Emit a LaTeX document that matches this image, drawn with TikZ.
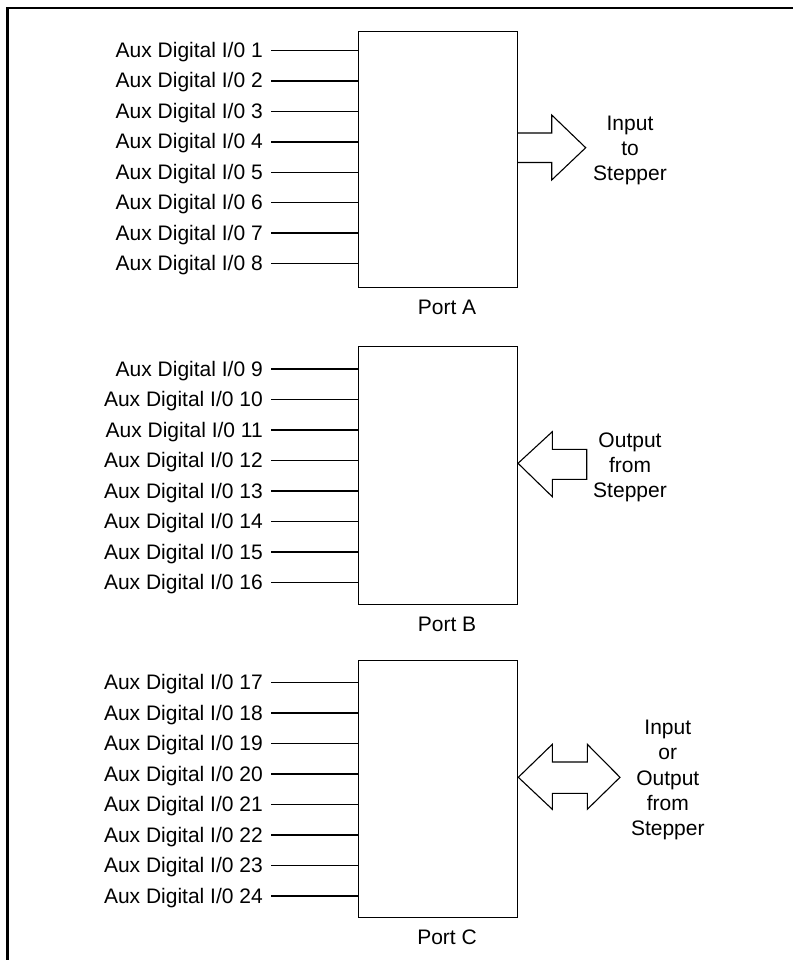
\documentclass[tikz,border=0pt]{standalone}
\usepackage{fontspec}
\setmainfont{Liberation Sans}
\begin{document}
\begin{tikzpicture}[x=1pt,y=-1pt,
  portbox/.style={draw,line width=1.1pt,minimum width=159.3pt,inner sep=0pt,anchor=north west},
  auxlbl/.style={anchor=base east,inner sep=0pt,font=\fontsize{21}{25}\selectfont},
  wire/.style={line width=1.1pt},
  bigarrow/.style={draw,line width=1.1pt,line join=miter},
  sidetext/.style={align=center,inner sep=0pt,font=\fontsize{21}{25.3}\selectfont},
  portlbl/.style={anchor=base,inner sep=0pt,font=\fontsize{21}{25}\selectfont},
  frameline/.style={line width=2.5pt}]
\useasboundingbox (0,0) rectangle (793,960);
% outer frame (left and top edges)
\draw[frameline] (7.7,960) -- (7.7,8) -- (793,8);

% port boxes
\node[portbox,minimum height=256.3pt] (pa) at (358,30.7) {};
\node[portbox,minimum height=258pt]   (pb) at (358,346) {};
\node[portbox,minimum height=256.7pt] (pc) at (358,660) {};

% port labels
\node[portlbl] (na) at (447,314.3) {Port A};
\node[portlbl] (nb) at (447,631.3) {Port B};
\node[portlbl] (nc) at (447,944) {Port C};

% wires, port A
\foreach \y [count=\i from 1] in {50.7,81,111.3,142,172.3,202.7,233,263.7} {
  \node[auxlbl] (l\i) at (263,\y+7) {Aux Digital I/0 \i};
  \draw[wire] ([shift={(8,-7)}]l\i.base east) -- (pa.west |- 0,\y);
}
% wires, port B
\foreach \y [count=\i from 9] in {369,399.7,430,460.7,491,521.7,552,582.7} {
  \node[auxlbl] (l\i) at (263,\y+7) {Aux Digital I/0 \i};
  \draw[wire] ([shift={(8,-7)}]l\i.base east) -- (pb.west |- 0,\y);
}
% wires, port C
\foreach \y [count=\i from 17] in {682.7,713,743.7,774,804.3,835,865.3,896} {
  \node[auxlbl] (l\i) at (263,\y+7) {Aux Digital I/0 \i};
  \draw[wire] ([shift={(8,-7)}]l\i.base east) -- (pc.west |- 0,\y);
}

% arrow A: right-pointing
\draw[bigarrow] (517.3,133) -- (551.7,133) -- (551.7,115) -- (585.7,147.7)
  -- (551.7,180) -- (551.7,162.5) -- (517.3,162.5);
% arrow B: left-pointing
\draw[bigarrow] (586.7,449.3) -- (552.3,449.3) -- (552.3,431.7) -- (518,463.3)
  -- (552.3,496.7) -- (552.3,479.3) -- (586.7,479.3) -- cycle;
% arrow C: double
\draw[bigarrow] (518.3,777.3) -- (552.3,744.3) -- (552.3,762) -- (587.3,762)
  -- (587.3,744.3) -- (620,777.3) -- (587.3,809.3) -- (587.3,793.3)
  -- (552.3,793.3) -- (552.3,809.3) -- cycle;

% side texts
\node[sidetext] (ta) at (630,150.3) {Input\\to\\Stepper};
\node[sidetext] (tb) at (630,467.4) {Output\\from\\Stepper};
\node[sidetext] (tc) at (667.8,780.2) {Input\\or\\Output\\from\\Stepper};
\end{tikzpicture}
\end{document}
